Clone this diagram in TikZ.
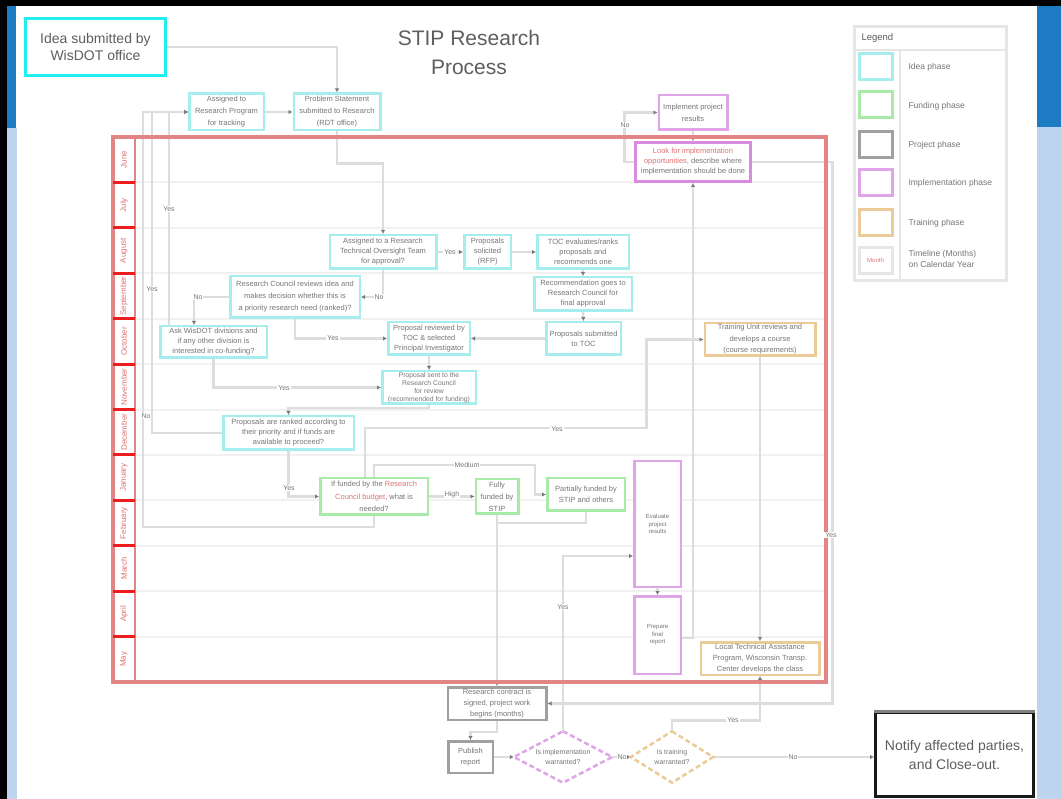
\documentclass[tikz,border=0pt]{standalone}
\usepackage{fontspec}
\setmainfont{Liberation Sans}
\usetikzlibrary{arrows.meta,calc}
\pgfdeclarelayer{paper}
\pgfdeclarelayer{lanes}
\pgfdeclarelayer{links}
\pgfsetlayers{paper,lanes,links,main}
\definecolor{cyanA}{HTML}{22EEF0}
\definecolor{cyanB}{HTML}{A6EEEE}
\definecolor{greenB}{HTML}{A8EBA8}
\definecolor{grayB}{HTML}{A0A0A0}
\definecolor{pinkB}{HTML}{E0A4E8}
\definecolor{pinkC}{HTML}{D98BDF}
\definecolor{orangeB}{HTML}{EBCB98}
\definecolor{laneRed}{HTML}{E38585}
\definecolor{sepRed}{HTML}{EE1C1C}
\definecolor{connc}{HTML}{DDDDDD}
\definecolor{tipc}{HTML}{7A7A7A}
\definecolor{txt}{HTML}{767676}
\definecolor{darktxt}{HTML}{5E5E5E}
\definecolor{redtxt}{HTML}{E07272}
\definecolor{blueDark}{HTML}{1C7BC2}
\definecolor{blueLight}{HTML}{BDD4EE}
\definecolor{legc}{HTML}{E6E6E6}
\definecolor{laneline}{HTML}{F1F1F1}
\tikzset{
  box/.style={draw, fill=white, line width=2.5pt, inner sep=1pt, align=center,
    text=txt, font=\fontsize{7.5}{10}\selectfont},
  ideabox/.style={box, draw=cyanB},
  fundbox/.style={box, draw=greenB},
  projbox/.style={box, draw=grayB},
  implbox/.style={box, draw=pinkB},
  trainbox/.style={box, draw=orangeB},
  dia/.style={inner sep=0pt, align=center, text=txt, font=\fontsize{7}{9.5}\selectfont},
  link/.style={draw=connc, line width=2.5pt, -{Latex[length=4pt,width=4.5pt,color=tipc]}},
  plainlink/.style={draw=connc, line width=2.5pt},
  lbl/.style={fill=white, text=txt, font=\fontsize{7}{8}\selectfont, inner sep=1pt},
  lanelbl/.style={rotate=90, text=redtxt, font=\fontsize{8}{9}\selectfont},
  swatch/.style={draw, fill=white, line width=3pt, minimum width=33pt, minimum height=26pt, inner sep=0pt},
  legtxt/.style={anchor=west, text=txt, font=\fontsize{8.5}{10}\selectfont, align=left},
}
\begin{document}
\begin{tikzpicture}[x=1pt,y=-1pt]
\useasboundingbox (0,0) rectangle (1061,799);
\begin{pgfonlayer}{paper}
\fill[white] (0,0) rectangle (1061,799);
\end{pgfonlayer}
% window frame
\fill[black] (0,0) rectangle (1061,6);
\fill[black] (0,0) rectangle (7,799);
\fill[blueDark] (7,6) rectangle (16,128);
\fill[blueLight] (7,128) rectangle (17,799);
\fill[blueDark] (1037,6) rectangle (1061,127);
\fill[blueLight] (1037,127) rectangle (1061,799);

% title
\node[text=darktxt, font=\fontsize{21}{29}\selectfont, align=center] (title) at (469,52) {STIP Research\\Process};

% swimlanes
\begin{pgfonlayer}{lanes}
\foreach \k in {1,...,11}{
  \pgfmathsetmacro{\yy}{137+45.42*\k}
  \draw[laneline, line width=2pt] (135,\yy) -- (826,\yy);
}
\end{pgfonlayer}
\draw[laneRed, line width=4pt] (113,137) rectangle (826,682);
\draw[laneRed, line width=2.5pt] (135,137) -- (135,682);
\foreach \k in {1,...,11}{
  \pgfmathsetmacro{\yy}{137+45.42*\k}
  \draw[sepRed, line width=3pt] (113,\yy) -- (135,\yy);
}
\foreach \m [count=\k] in {June,July,August,September,October,November,December,January,February,March,April,May}{
  \pgfmathsetmacro{\yy}{137+45.42*(\k-0.5)}
  \node[lanelbl] (lane\k) at (124,\yy) {\m};
}

% legend
\draw[legc, line width=3pt] (854,27) rectangle (1006,281);
\draw[legc, line width=2pt] (854,50) -- (1006,50);
\draw[legc, line width=2pt] (900,50) -- (900,281);
\node[anchor=west, text=darktxt, font=\fontsize{9.5}{10}\selectfont] (legtitle) at (858,38) {Legend};
\node[swatch, draw=cyanB] (sw1) at (875.5,67) {};
\node[swatch, draw=greenB] (sw2) at (875.5,105) {};
\node[swatch, draw=grayB] (sw3) at (875.5,145) {};
\node[swatch, draw=pinkB] (sw4) at (875.5,182.5) {};
\node[swatch, draw=orangeB] (sw5) at (875.5,223) {};
\node[swatch, draw=legc, text=redtxt, font=\fontsize{6}{7}\selectfont] (sw6) at (875.5,260.5) {Month};
\node[legtxt] (lg1) at (905,67) {Idea phase};
\node[legtxt] (lg2) at (905,106) {Funding phase};
\node[legtxt] (lg3) at (905,145) {Project phase};
\node[legtxt] (lg4) at (905,183) {Implementation phase};
\node[legtxt] (lg5) at (905,223) {Training phase};
\node[legtxt, font=\fontsize{8.5}{10.5}\selectfont] (lg6) at (905,259) {Timeline (Months)\\on Calendar Year};

% nodes
\node[box, draw=cyanA, line width=3.5pt, minimum width=140pt, minimum height=57pt,
      text=darktxt, font=\fontsize{14}{17}\selectfont] (idea) at (95.5,47) {Idea submitted by\\WisDOT office};
\node[ideabox, minimum width=74.5pt, minimum height=36.5pt, font=\fontsize{7.5}{12}\selectfont] (A) at (226.5,112) {Assigned to\\Research Program\\for tracking};
\node[ideabox, minimum width=86.5pt, minimum height=36.5pt, font=\fontsize{7.5}{12}\selectfont] (B) at (337,112) {Problem Statement\\submitted to Research\\(RDT office)};
\node[ideabox, minimum width=106.5pt, minimum height=33.5pt] (C) at (383,252) {Assigned to a Research\\Technical Oversight Team\\for approval?};
\node[ideabox, minimum width=46.5pt, minimum height=33.5pt] (D) at (487.5,252) {Proposals\\solicited\\(RFP)};
\node[ideabox, minimum width=91.5pt, minimum height=33.5pt] (E) at (583,252) {TOC evaluates/ranks\\proposals and\\recommends one};
\node[ideabox, minimum width=97.5pt, minimum height=33.5pt] (F) at (583,294) {Recommendation goes to\\Research Council for\\final approval};
\node[ideabox, minimum width=74.5pt, minimum height=32.5pt] (G) at (583.5,338.5) {Proposals submitted\\to TOC};
\node[ideabox, minimum width=81.5pt, minimum height=32.5pt] (H) at (429,338.5) {Proposal reviewed by\\TOC \& selected\\Principal Investigator};
\node[ideabox, minimum width=93.5pt, minimum height=32.5pt, font=\fontsize{6.8}{8}\selectfont] (I) at (429,387.5) {Proposal sent to the\\Research Council\\for review\\(recommended for funding)};
\node[ideabox, minimum width=130.5pt, minimum height=33.5pt] (J) at (288.5,433) {Proposals are ranked according to\\their priority and if funds are\\available to proceed?};
\node[ideabox, minimum width=129.5pt, minimum height=41.5pt, font=\fontsize{7.5}{12}\selectfont] (K) at (295,297) {Research Council reviews idea and\\makes decision whether this is\\a priority research need (ranked)?};
\node[ideabox, minimum width=106.5pt, minimum height=31.5pt] (L) at (213.5,342) {Ask WisDOT divisions and\\if any other division is\\interested in co-funding?};
\node[fundbox, minimum width=107.5pt, minimum height=36.5pt, font=\fontsize{7.5}{12.5}\selectfont] (M) at (374,496.5) {If funded by the \textcolor{redtxt}{Research}\\\textcolor{redtxt}{Council budget}, what is\\needed?};
\node[fundbox, minimum width=42.5pt, minimum height=34.5pt, font=\fontsize{7.5}{12}\selectfont] (N) at (497,496.5) {Fully\\funded by\\STIP};
\node[fundbox, minimum width=77.5pt, minimum height=32.5pt, font=\fontsize{7.5}{11}\selectfont] (O) at (586,494.5) {Partially funded by\\STIP and others};
\node[implbox, minimum width=46.5pt, minimum height=125.5pt, font=\fontsize{6}{7.5}\selectfont] (R1) at (657.5,524) {Evaluate\\project\\results};
\node[implbox, minimum width=46.5pt, minimum height=77.5pt, font=\fontsize{6}{7.5}\selectfont] (R2) at (657.5,635) {Prepare\\final\\report};
\node[implbox, minimum width=68.5pt, minimum height=34.5pt, font=\fontsize{7.5}{12}\selectfont] (Y1) at (693,112.5) {Implement project\\results};
\node[implbox, draw=pinkC, line width=3pt, minimum width=115pt, minimum height=39pt] (Y2) at (693,162) {\textcolor{redtxt}{Look for implementation}\\\textcolor{redtxt}{opportunities,} describe where\\implementation should be done};
\node[trainbox, minimum width=110.5pt, minimum height=32.5pt, font=\fontsize{7.5}{11.5}\selectfont] (Q) at (760,339.5) {Training Unit reviews and\\develops a course\\(course requirements)};
\node[trainbox, minimum width=118.5pt, minimum height=32.5pt, font=\fontsize{7.5}{11}\selectfont] (U) at (760,658.5) {Local Technical Assistance\\Program, Wisconsin Transp.\\Center develops the class};
\node[projbox, minimum width=98.5pt, minimum height=32.5pt, font=\fontsize{7.5}{11}\selectfont] (P) at (497,703.5) {Research contract is\\signed, project work\\begins (months)};
\node[projbox, minimum width=44.5pt, minimum height=31.5pt, font=\fontsize{7.5}{11}\selectfont] (V) at (470.5,757) {Publish\\report};
\node[dia, minimum width=98pt, minimum height=51pt] (S) at (563,757) {Is implementation\\warranted?};
\draw[pinkB, line width=2.5pt, dash pattern=on 5pt off 3pt] (S.north) -- (S.east) -- (S.south) -- (S.west) -- cycle;
\node[dia, minimum width=82pt, minimum height=51pt] (T) at (672,757) {Is training\\warranted?};
\draw[orangeB, line width=2.5pt, dash pattern=on 5pt off 3pt] (T.north) -- (T.east) -- (T.south) -- (T.west) -- cycle;
\node[box, draw=black!90, line width=3pt, minimum width=158pt, minimum height=84pt,
      text=darktxt, font=\fontsize{14}{19}\selectfont] (W) at (954.5,754.5) {Notify affected parties,\\and Close-out.};
\draw[gray, line width=3pt] (W.north west) -- (W.north east);

% connectors
\begin{pgfonlayer}{links}
\draw[link] (idea.east) -| (B.north);
\draw[link] (A.east) -- (B.west);
\draw[link] (B.south) -- ++(0,32) -| (C.north);
\draw[link] (C.east) -- (D.west);
\draw[link] (D.east) -- (E.west);
\draw[link] (E.south) -- (F.north);
\draw[link] (F.south) -- (G.north);
\draw[link] (G.west) -- (H.east);
\draw[link] (H.south) -- (I.north);
\draw[link] (I.south) -- ++(0,3) -| (J.north);
\draw[link] (C.south) |- (K.east);
\draw[link] (K.west) -| ([xshift=-19.5pt]L.north);
\draw[link] (K.south) |- (H.west);
\draw[link] (L.south) |- (I.west);
\draw[link] ([xshift=-44.5pt]L.north) |- (A.west);
\draw[link] (J.west) -| ([xshift=-36pt]A.west) -- (A.west);
\draw[link] (M.south) -- ++(0,11) -| ([xshift=-45pt]A.west) -- (A.west);
\draw[link] (J.south) |- (M.west);
\draw[link] (M.east) -- (N.west);
\draw[link] (M.north) -- ++(0,-12) -| ([xshift=-11pt]O.west) -- (O.west);
\draw[link] ([xshift=-9pt]M.north) -- ++(0,-49) -| ([xshift=-57pt]Q.west) -- (Q.west);
\draw[link] (N.south) -- (P.north);
\draw[plainlink] (O.south) -- ++(0,11) -| (N.south);
\draw[link] (P.south) -- ++(0,11) -| (V.north);
\draw[link] (V.east) -- (S.west);
\draw[link] (S.east) -- (T.west);
\draw[link] (T.east) -- (T.east -| W.west);
\draw[link] (S.north) |- ([yshift=-32pt]R1.west);
\draw[link] (R1.south) -- (R2.north);
\draw[link] ([yshift=-3pt]R2.east) -| (Y2.south);
\draw[link] (Y1.south) -- (Y2.north);
\draw[link] (Y2.west) -| ([xshift=-33pt]Y1.west) -- (Y1.west);
\draw[link] (Y2.east) -| ([xshift=285pt]P.east) -- (P.east);
\draw[link] (Q.south) -- (U.north);
\draw[link] (T.north) -- ++(0,-11) -| (U.south);
\end{pgfonlayer}

% connector labels
\node[lbl] (l1) at (450,252) {Yes};
\node[lbl] (l2) at (379,297) {No};
\node[lbl] (l3) at (198,297) {No};
\node[lbl] (l4) at (333,338) {Yes};
\node[lbl] (l5) at (284,388) {Yes};
\node[lbl] (l6) at (169,209) {Yes};
\node[lbl] (l7) at (152,289) {Yes};
\node[lbl] (l8) at (146,416) {No};
\node[lbl] (l9) at (289,488) {Yes};
\node[lbl] (l10) at (452,495) {High};
\node[lbl] (l11) at (467,465) {Medium};
\node[lbl] (l12) at (557,429) {Yes};
\node[lbl] (l13) at (563,607) {Yes};
\node[lbl] (l14) at (625,125) {No};
\node[lbl] (l15) at (831,535) {Yes};
\node[lbl] (l16) at (733,720) {Yes};
\node[lbl] (l17) at (622,757) {No};
\node[lbl] (l18) at (793,757) {No};
\end{tikzpicture}
\end{document}
